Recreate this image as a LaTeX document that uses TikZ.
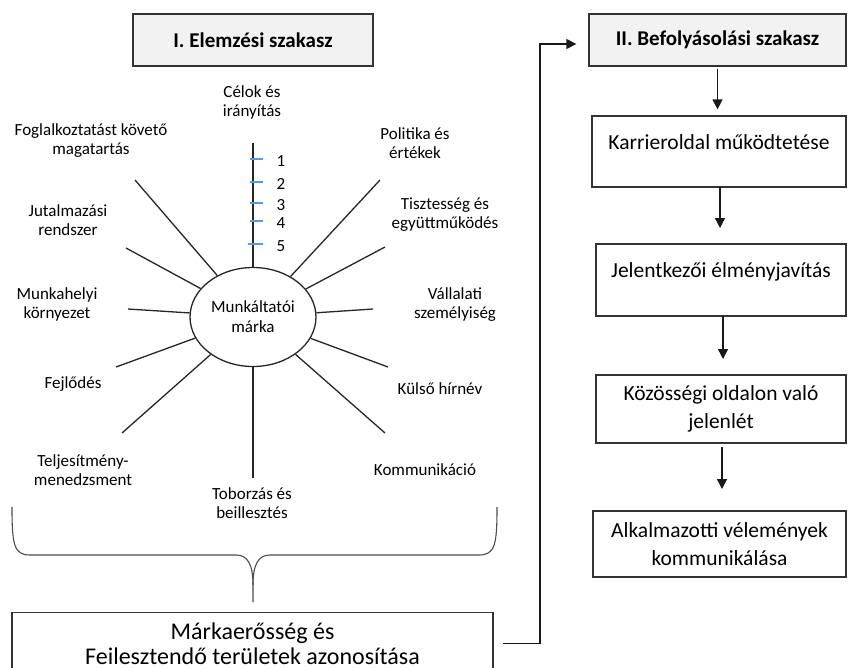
\documentclass[tikz,border=0pt]{standalone}
\usepackage{fontspec}
\setmainfont{Carlito}
\usetikzlibrary{shapes.geometric,arrows.meta,calc}
\definecolor{tickblue}{HTML}{5B9BD5}
\definecolor{hdrfill}{HTML}{F2F2F2}
\begin{document}
\begin{tikzpicture}[x=1pt,y=-1pt,
  lbl/.style={align=center,font=\fontsize{17}{19}\selectfont,inner sep=0},
  ray/.style={line width=1.3pt,draw=black!85},
  bx/.style={draw=black!80,line width=1.3pt,align=center,font=\fontsize{21.5}{27.5}\selectfont,inner sep=0},
  hdr/.style={bx,fill=hdrfill,font=\bfseries\fontsize{21}{24}\selectfont},
  arr/.style={line width=1.3pt,draw=black!90,-{Triangle[width=10pt,length=10pt]}},
  tickm/.style={draw=tickblue,line width=1.1pt},
  brace/.style={draw=black!70,line width=1.1pt}
]
\useasboundingbox (0,0) rectangle (848,667);

% headers
\node[hdr,minimum width=240pt,minimum height=52pt] (b1) at (253,40) {I. Elemzési szakasz};
\node[hdr,minimum width=257pt,minimum height=52pt] (b2) at (717.5,40) {II. Befolyásolási szakasz};

% central ellipse
\node[draw=black!85,line width=1.3pt,shape=ellipse,minimum width=126pt,minimum height=99pt,inner sep=0,align=center,font=\fontsize{17}{20}\selectfont] (ell) at (253,317) {Munkáltatói\\márka};

% scale
\coordinate (stop) at (253,143);
\draw[ray] (stop) -- (ell.north);
\foreach \i/\yy/\xs in {1/159/250,2/182/250,3/203/250,4/221/250,5/244/248}{
  \coordinate (t\i a) at (\xs,\yy);
  \coordinate (t\i b) at (263,\yy);
  \draw[tickm] (t\i a) -- (t\i b);
  \node[lbl] (n\i) at (281,\yy+2) {\i};
}

% rays
\coordinate (bot) at (253,478);
\draw[ray] (ell.south) -- (bot);
\foreach \n/\xx/\yy in {l1/135/180,l2/126/248,l3/128/309,l4/116/367,l5/122/433,
                         r1/380/180,r2/385/247,r3/373/309,r4/388/367,r5/385/433}{
  \coordinate (\n) at (\xx,\yy);
  \draw[ray] (\n) -- (ell);
}

% labels
\node[lbl] (lc) at (252,102) {Célok és\\irányítás};
\node[lbl] (lfo) at (91,141) {Foglalkoztatást követő\\magatartás};
\node[lbl] (lpo) at (415,143) {Politika és\\értékek};
\node[lbl] (lju) at (68,220) {Jutalmazási\\rendszer};
\node[lbl] (lti) at (445,215) {Tisztesség és\\együttműködés};
\node[lbl] (lmu) at (57,304) {Munkahelyi\\környezet};
\node[lbl] (lva) at (455,305) {Vállalati\\személyiség};
\node[lbl] (lfe) at (73,384) {Fejlődés};
\node[lbl] (lku) at (440,389) {Külső hírnév};
\node[lbl] (lte) at (83,470) {Teljesítmény-\\menedzsment};
\node[lbl] (lko) at (425,470) {Kommunikáció};
\node[lbl] (lto) at (252,503) {Toborzás és\\beillesztés};

% brace
\draw[brace] (12,507) .. controls (12,545) and (14,555) .. (30,555) -- (236,555)
   .. controls (248,555) and (253,565) .. (253,585) -- (253,602);
\draw[brace] (497,507) .. controls (497,545) and (495,555) .. (479,555) -- (270,555)
   .. controls (258,555) and (253,565) .. (253,585);

% bottom box
\node[bx,anchor=north,minimum width=481pt,minimum height=62pt,font=\fontsize{24}{25}\selectfont] (mb) at (252.5,612) {Márkaerősség és\\Feilesztendő területek azonosítása};
\draw[draw=black!80,line width=1.3pt] (mb.south west) -- ++(0,20pt);
\draw[draw=black!80,line width=1.3pt] (mb.south east) -- ++(0,20pt);

% right chain
\node[bx,minimum width=254pt,minimum height=71pt] (k) at (719,151.5) {Karrieroldal működtetése\rule[-18pt]{0pt}{18pt}};
\node[bx,minimum width=250pt,minimum height=72pt] (j) at (721,280) {Jelentkezői élményjavítás\rule[-19pt]{0pt}{19pt}};
\node[bx,minimum width=250pt,minimum height=68pt] (ko) at (721,409) {Közösségi oldalon való\\jelenlét};
\node[bx,minimum width=253pt,minimum height=66pt] (a) at (719.5,544) {Alkalmazotti vélemények\\kommunikálása};

\draw[arr,shorten >=6pt,shorten <=2pt] (b2.south) -- (b2.south |- k.north);
\draw[arr,shorten >=16pt] (720,187) -- (720,244);
\draw[arr,shorten >=16pt] (723,316) -- (723,375);
\draw[arr,shorten >=22pt,shorten <=4pt] (722,443) -- (722,511);

% feedback arrow
\coordinate (c2) at (540,44);
\draw[arr] ([xshift=9pt]mb.east) -| (c2) -- ([xshift=-12pt,yshift=-4pt]b2.west);
\end{tikzpicture}
\end{document}
